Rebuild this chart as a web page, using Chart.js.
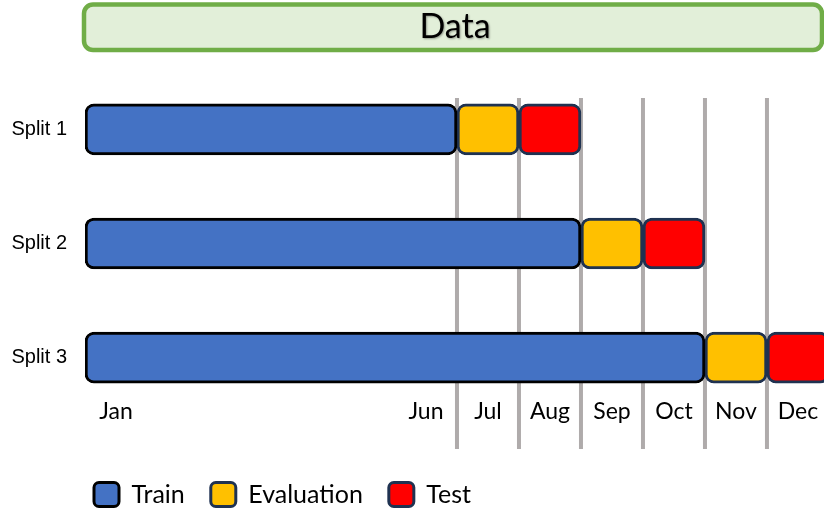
<!DOCTYPE html>
<html>
<head>
<meta charset="utf-8">
<script src="https://cdn.jsdelivr.net/npm/chart.js@4.4.1/dist/chart.umd.min.js"></script>
<style>
  html, body { margin: 0; padding: 0; background: #fff; }
  #wrap { width: 824px; height: 510px; position: relative; }
</style>
</head>
<body>
<div id="wrap"><canvas id="chart"></canvas></div>
<script>
// Rótulos das divisões e dos meses
const splits = ['Split 1', 'Split 2', 'Split 3'];
const splitPos = [1, 2, 3];
const months = ['Jan', 'Jun', 'Jul', 'Aug', 'Sep', 'Oct', 'Nov', 'Dec'];
const monthCenters = [0.5, 5.5, 6.5, 7.5, 8.5, 9.5, 10.5, 11.5];
const monthLines = [6, 7, 8, 9, 10, 11];

// Intervalos (em meses desde Jan) de cada parte
const trainRanges = [[0, 6], [0, 8], [0, 10]];
const evalRanges = [[6, 7], [8, 9], [10, 11]];
const testRanges = [[7, 8], [9, 10], [11, 12]];

const toPoints = ranges => ranges.map((r, i) => ({ x: r, y: splitPos[i] }));

// Linhas cinzas verticais nos limites dos meses
const monthLinesPlugin = {
    id: 'monthLines',
    beforeDatasetsDraw(chart) {
        const { ctx, chartArea, scales } = chart;
        ctx.save();
        ctx.strokeStyle = '#afabab';
        ctx.lineWidth = 4;
        monthLines.forEach(v => {
            const px = scales.x.getPixelForValue(v);
            ctx.beginPath();
            ctx.moveTo(px, chartArea.top);
            ctx.lineTo(px, scales.x.bottom);
            ctx.stroke();
        });
        ctx.restore();
    }
};

// Caixa verde "Data" no topo
const headerPlugin = {
    id: 'header',
    beforeDraw(chart) {
        const ctx = chart.ctx;
        ctx.save();
        ctx.beginPath();
        ctx.roundRect(84, 4.5, 738, 45.5, 9);
        ctx.fillStyle = '#e2efd9';
        ctx.fill();
        ctx.lineWidth = 4.5;
        ctx.strokeStyle = '#70ad47';
        ctx.stroke();
        ctx.font = '34px Lato';
        ctx.fillStyle = '#000';
        ctx.textAlign = 'center';
        ctx.textBaseline = 'alphabetic';
        ctx.shadowColor = 'rgba(0,0,0,0.35)';
        ctx.shadowBlur = 2;
        ctx.shadowOffsetX = 1;
        ctx.shadowOffsetY = 1;
        ctx.fillText('Data', 455, 38);
        ctx.restore();
    }
};

// Reposiciona a legenda mais à esquerda
const legendShift = {
    id: 'legendShift',
    afterLayout(chart) {
        if (!chart.legend) return;
        chart.legend.left = 68;
        chart.legend.top = chart.scales.x.bottom + 7;
    }
};

const commonBar = {
    grouped: false,
    barThickness: 51,
    borderWidth: 3,
    borderRadius: 9,
    borderSkipped: false
};

new Chart(document.getElementById('chart'), {
    type: 'bar',
    data: {
        datasets: [
            { ...commonBar, label: 'Train', data: toPoints(trainRanges),
              backgroundColor: '#4472c4', borderColor: '#000000' },
            { ...commonBar, label: 'Evaluation', data: toPoints(evalRanges),
              backgroundColor: '#ffc000', borderColor: '#1f3251' },
            { ...commonBar, label: 'Test', data: toPoints(testRanges),
              backgroundColor: '#ff0000', borderColor: '#1f3251' }
        ]
    },
    options: {
        indexAxis: 'y',
        responsive: true,
        maintainAspectRatio: false,
        animation: false,
        layout: { padding: { top: 98, left: 0, right: 0, bottom: 0 } },
        scales: {
            x: {
                type: 'linear',
                min: 0,
                max: 11.92,
                offset: false,
                grid: { display: false, drawTicks: false },
                border: { display: false },
                afterBuildTicks: s => { s.ticks = monthCenters.map(v => ({ value: v })); },
                afterFit: s => { s.height = 50; },
                ticks: {
                    autoSkip: false,
                    maxRotation: 0,
                    padding: -1,
                    color: '#000',
                    font: { family: 'Lato', size: 23 },
                    callback: (v, i) => months[i]
                }
            },
            y: {
                type: 'linear',
                reverse: true,
                offset: false,
                min: 0.725,
                max: 3.362,
                grid: { display: false, drawTicks: false, offset: false },
                border: { display: false },
                afterBuildTicks: s => { s.ticks = splitPos.map(v => ({ value: v })); },
                afterFit: s => { s.width = 85; },
                ticks: {
                    padding: 18,
                    color: '#000',
                    font: { family: 'Liberation Sans', size: 20 },
                    callback: (v, i) => splits[i]
                }
            }
        },
        plugins: {
            legend: {
                position: 'bottom',
                align: 'start',
                labels: {
                    boxWidth: 25,
                    boxHeight: 24,
                    padding: 26,
                    useBorderRadius: true,
                    borderRadius: 5,
                    color: '#000',
                    font: { family: 'Lato', size: 25 }
                }
            },
            tooltip: { enabled: false }
        }
    },
    plugins: [monthLinesPlugin, headerPlugin, legendShift]
});
</script>
</body>
</html>
